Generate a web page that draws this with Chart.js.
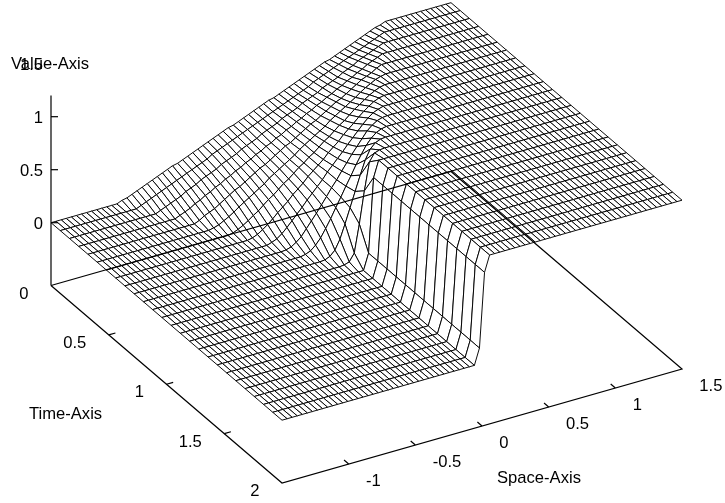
<!DOCTYPE html>
<html>
<head>
<meta charset="utf-8">
<title>Surface</title>
<script src="https://cdn.jsdelivr.net/npm/chart.js@4"></script>
<style>
  html, body { margin: 0; padding: 0; background: #fff; }
  canvas { display: block; }
</style>
</head>
<body>
<canvas id="myChart" width="725" height="503"></canvas>
<script>
// axis ticks and titles
const spaceTicks = [-1, -0.5, 0, 0.5, 1];
const spaceTickLabels = ['-1', '-0.5', '0', '0.5', '1', '1.5'];
const timeTicks = [0.5, 1, 1.5];
const timeTickLabels = ['0', '0.5', '1', '1.5', '2'];
const valueTicks = [0, 0.5, 1];
const valueTickLabels = ['0', '0.5', '1', '1.5'];
const axisTitles = ['Space-Axis', 'Time-Axis', 'Value-Axis'];

// surface values, one array per time step, 80 space nodes each
const u00 = [0,0,0,0,0,0,0,0,0,0,0,0,0,0,
  0.02,0.03,0.05,0.07,0.09,0.11,0.13,0.15,0.17,0.19,0.21,0.22,0.24,0.26,0.28,0.30,0.32,0.34,0.36,0.38,0.40,0.42,0.43,0.45,0.47,0.49,
  0.51,0.53,0.55,0.57,0.58,0.60,0.62,0.64,0.66,0.68,0.70,0.72,0.74,0.76,0.78,0.79,0.81,0.83,0.85,0.87,0.89,0.91,0.93,0.95,0.97,0.98,
  1,1,1,1,1,1,1,1,1,1,1,1,1,1];
const u01 = [0,0,0,0,0,0,0,0,0,0,0,0,0,0,0,0,
  0.02,0.04,0.06,0.08,0.10,0.12,0.14,0.16,0.18,0.20,0.22,0.24,0.26,0.28,0.31,0.33,0.35,0.37,0.39,0.41,0.43,0.45,0.47,0.49,
  0.51,0.53,0.55,0.57,0.59,0.61,0.63,0.65,0.67,0.69,0.72,0.74,0.76,0.78,0.80,0.82,0.84,0.86,0.88,0.90,0.92,0.94,0.96,0.98,
  1,1,1,1,1,1,1,1,1,1,1,1,1,1,1,1];
const u02 = [0,0,0,0,0,0,0,0,0,0,0,0,0,0,0,0,0,0,
  0.02,0.04,0.06,0.08,0.10,0.13,0.15,0.17,0.20,0.22,0.24,0.26,0.29,0.31,0.33,0.35,0.38,0.40,0.42,0.44,0.47,0.49,
  0.51,0.53,0.56,0.58,0.60,0.62,0.65,0.67,0.69,0.71,0.74,0.76,0.78,0.80,0.83,0.85,0.87,0.90,0.92,0.94,0.96,0.98,
  1,1,1,1,1,1,1,1,1,1,1,1,1,1,1,1,1,1];
const u03 = [0,0,0,0,0,0,0,0,0,0,0,0,0,0,0,0,0,0,0,0,
  0.02,0.04,0.06,0.09,0.11,0.14,0.16,0.19,0.21,0.24,0.26,0.29,0.31,0.34,0.36,0.39,0.41,0.44,0.46,0.49,
  0.51,0.54,0.56,0.59,0.61,0.64,0.66,0.69,0.71,0.74,0.76,0.79,0.81,0.84,0.86,0.89,0.91,0.94,0.96,0.98,
  1,1,1,1,1,1,1,1,1,1,1,1,1,1,1,1,1,1,1,1];
const u04 = [0,0,0,0,0,0,0,0,0,0,0,0,0,0,0,0,0,0,0,0,0,0,
  0.02,0.05,0.07,0.09,0.12,0.15,0.18,0.21,0.23,0.26,0.29,0.32,0.35,0.37,0.40,0.43,0.46,0.49,
  0.51,0.54,0.57,0.60,0.63,0.65,0.68,0.71,0.74,0.77,0.79,0.82,0.85,0.88,0.91,0.93,0.95,0.98,
  1,1,1,1,1,1,1,1,1,1,1,1,1,1,1,1,1,1,1,1,1,1];
const u05 = [0,0,0,0,0,0,0,0,0,0,0,0,0,0,0,0,0,0,0,0,0,0,0,
  0.01,0.025,0.05,0.075,0.105,0.14,0.17,0.20,0.23,0.26,0.29,0.33,0.36,0.39,0.42,0.45,0.48,
  0.52,0.55,0.58,0.61,0.64,0.67,0.71,0.74,0.77,0.80,0.83,0.86,0.895,0.925,0.95,0.975,0.99,
  1,1,1,1,1,1,1,1,1,1,1,1,1,1,1,1,1,1,1,1,1,1,1];
const u06 = [0,0,0,0,0,0,0,0,0,0,0,0,0,0,0,0,0,0,0,0,0,0,0,0,0,
  0.01,0.03,0.055,0.085,0.12,0.15,0.19,0.23,0.26,0.30,0.34,0.37,0.41,0.45,0.48,
  0.52,0.55,0.59,0.63,0.66,0.70,0.74,0.77,0.81,0.85,0.88,0.915,0.945,0.97,0.99,
  1,1,1,1,1,1,1,1,1,1,1,1,1,1,1,1,1,1,1,1,1,1,1,1,1];
const u07 = [0,0,0,0,0,0,0,0,0,0,0,0,0,0,0,0,0,0,0,0,0,0,0,0,0,0,0,
  0.01,0.03,0.06,0.095,0.135,0.18,0.22,0.26,0.31,0.35,0.39,0.44,0.48,
  0.52,0.56,0.61,0.65,0.69,0.74,0.78,0.82,0.865,0.905,0.94,0.97,0.99,
  1,1,1,1,1,1,1,1,1,1,1,1,1,1,1,1,1,1,1,1,1,1,1,1,1,1,1];
const u08 = [0,0,0,0,0,0,0,0,0,0,0,0,0,0,0,0,0,0,0,0,0,0,0,0,0,0,0,0,0,
  0.015,0.035,0.07,0.115,0.165,0.215,0.265,0.32,0.37,0.42,0.47,
  0.53,0.58,0.63,0.68,0.735,0.785,0.835,0.885,0.93,0.965,0.985,
  1,1,1,1,1,1,1,1,1,1,1,1,1,1,1,1,1,1,1,1,1,1,1,1,1,1,1,1,1];
const u09 = [0,0,0,0,0,0,0,0,0,0,0,0,0,0,0,0,0,0,0,0,0,0,0,0,0,0,0,0,0,0,
  0.005,0.02,0.05,0.09,0.15,0.21,0.27,0.335,0.40,0.47,
  0.53,0.60,0.665,0.73,0.79,0.85,0.91,0.95,0.98,0.995,
  1,1,1,1,1,1,1,1,1,1,1,1,1,1,1,1,1,1,1,1,1,1,1,1,1,1,1,1,1,1];
const u10 = [0,0,0,0,0,0,0,0,0,0,0,0,0,0,0,0,0,0,0,0,0,0,0,0,0,0,0,0,0,0,0,0,
  0.01,0.03,0.07,0.125,0.20,0.28,0.37,0.455,
  0.545,0.63,0.72,0.80,0.875,0.93,0.97,0.99,
  1,1,1,1,1,1,1,1,1,1,1,1,1,1,1,1,1,1,1,1,1,1,1,1,1,1,1,1,1,1,1,1];
const u11 = [0,0,0,0,0,0,0,0,0,0,0,0,0,0,0,0,0,0,0,0,0,0,0,0,0,0,0,0,0,0,0,0,0,0,
  0.005,0.025,0.07,0.16,0.29,0.43,
  0.57,0.71,0.84,0.93,0.975,0.995,
  1,1,1,1,1,1,1,1,1,1,1,1,1,1,1,1,1,1,1,1,1,1,1,1,1,1,1,1,1,1,1,1,1,1];
const u12 = [0,0,0,0,0,0,0,0,0,0,0,0,0,0,0,0,0,0,0,0,0,0,0,0,0,0,0,0,0,0,0,0,0,0,0,0,
  0.005,0.02,0.09,0.35,
  0.65,0.91,0.98,0.995,
  1,1,1,1,1,1,1,1,1,1,1,1,1,1,1,1,1,1,1,1,1,1,1,1,1,1,1,1,1,1,1,1,1,1,1,1];
// from here on the wall stays put
const shock = [0,0,0,0,0,0,0,0,0,0,0,0,0,0,0,0,0,0,0,0,0,0,0,0,0,0,0,0,0,0,0,0,0,0,0,0,0,0,0,
  0.15,
  0.85,
  1,1,1,1,1,1,1,1,1,1,1,1,1,1,1,1,1,1,1,1,1,1,1,1,1,1,1,1,1,1,1,1,1,1,1,1,1,1,1];
const surface = [u00, u01, u02, u03, u04, u05, u06, u07, u08, u09, u10, u11, u12,
  shock, shock, shock, shock, shock, shock, shock, shock, shock, shock, shock, shock, shock];

const spaceMin = -1.5;
const spaceMax = 1.5;
const timeMax = 2;
const valueFloor = -0.5925;
const valueTop = 1.2;

// fixed gnuplot style view, data units to canvas pixels
function project(space, time, value) {
  const sx = (space - spaceMin) / (spaceMax - spaceMin);
  const st = time / timeMax;
  return {
    x: 51 + sx * 400 + st * 231,
    y: 285.5 - sx * 114 + st * 197.5 - (value - valueFloor) * 106,
  };
}

const spaceAt = (k) => spaceMin + (k * (spaceMax - spaceMin)) / (surface[0].length - 1);
const timeAt = (j) => (j * timeMax) / (surface.length - 1);

function axisLine(points) {
  return {
    data: points,
    showLine: true,
    fill: false,
    borderColor: '#000',
    borderWidth: 1.2,
    pointRadius: 0,
    clip: false,
  };
}

const datasets = [];

// box and ticks come first so they end up on top of the surface
datasets.push(axisLine([
  project(spaceMin, 0, valueFloor),
  project(spaceMin, timeMax, valueFloor),
  project(spaceMax, timeMax, valueFloor),
  project(spaceMax, 0, valueFloor),
  project(spaceMin, 0, valueFloor),
]));
datasets.push(axisLine([project(spaceMin, 0, valueFloor), project(spaceMin, 0, valueTop)]));
spaceTicks.forEach((s) => {
  datasets.push(axisLine([project(s, timeMax, valueFloor), project(s, timeMax - 0.04, valueFloor)]));
});
timeTicks.forEach((t) => {
  datasets.push(axisLine([project(spaceMin, t, valueFloor), project(spaceMin + 0.05, t, valueFloor)]));
});
valueTicks.forEach((v) => {
  const p = project(spaceMin, 0, v);
  datasets.push(axisLine([p, { x: p.x + 7, y: p.y }]));
});

// first dataset is drawn last, so nearest cell first
for (let j = surface.length - 2; j >= 0; j--) {
  for (let k = 0; k < surface[j].length - 1; k++) {
    const a = project(spaceAt(k), timeAt(j), surface[j][k]);
    const b = project(spaceAt(k + 1), timeAt(j), surface[j][k + 1]);
    const c = project(spaceAt(k + 1), timeAt(j + 1), surface[j + 1][k + 1]);
    const d = project(spaceAt(k), timeAt(j + 1), surface[j + 1][k]);
    datasets.push({
      data: [a, b, c, d, a],
      showLine: true,
      fill: 'shape',
      backgroundColor: '#fff',
      borderColor: '#000',
      borderWidth: 0.95,
      pointRadius: 0,
      clip: false,
    });
  }
}

const axisText = {
  id: 'axisText',
  afterDraw(chart) {
    const { ctx } = chart;
    const put = (text, x, y, align) => {
      ctx.textAlign = align;
      ctx.fillText(text, x, y + 1.5);
    };
    ctx.save();
    ctx.font = '16.6px "Liberation Sans"';
    ctx.fillStyle = '#000';
    ctx.textBaseline = 'middle';
    spaceTickLabels.forEach((text, i) => {
      const p = project(spaceMin + 0.5 + i * 0.5, timeMax, valueFloor);
      put(text, p.x + 17.3, p.y + 15.5, 'left');
    });
    timeTickLabels.forEach((text, i) => {
      const p = project(spaceMin, i * 0.5, valueFloor);
      put(text, p.x - 22.5, p.y + 7, 'right');
    });
    valueTickLabels.forEach((text, i) => {
      const p = project(spaceMin, 0, i * 0.5);
      put(text, p.x - 8, p.y, 'right');
    });
    put(axisTitles[0], 497, 477, 'left');
    put(axisTitles[1], 29, 413, 'left');
    put(axisTitles[2], 11, 63, 'left');
    ctx.restore();
  },
};

new Chart(document.querySelector('#myChart'), {
  type: 'scatter',
  data: { datasets },
  options: {
    responsive: false,
    animation: false,
    layout: { padding: 0 },
    elements: { line: { tension: 0 } },
    scales: {
      x: { type: 'linear', display: false, min: 0, max: 725 },
      y: { type: 'linear', display: false, min: 0, max: 503, reverse: true },
    },
    plugins: { legend: { display: false }, tooltip: { enabled: false } },
  },
  plugins: [axisText],
});
</script>
</body>
</html>
